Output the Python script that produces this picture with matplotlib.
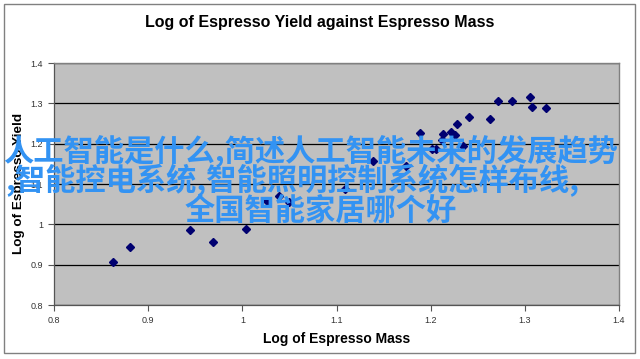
import matplotlib
matplotlib.use("Agg")
import matplotlib.pyplot as plt
from matplotlib.patches import Rectangle

# ======================
# 数据
# ======================
log_mass = [0.863, 0.881, 0.944, 0.969, 1.004, 1.026, 1.039, 1.050, 1.109,
            1.139, 1.174, 1.189, 1.201, 1.206, 1.212, 1.213, 1.222, 1.226,
            1.228, 1.234, 1.241, 1.263, 1.271, 1.286, 1.306, 1.308, 1.322]
log_yield = [0.906, 0.943, 0.986, 0.955, 0.988, 1.059, 1.071, 1.055, 1.087,
             1.158, 1.145, 1.226, 1.186, 1.188, 1.209, 1.224, 1.230, 1.221,
             1.248, 1.194, 1.267, 1.261, 1.307, 1.305, 1.315, 1.290, 1.288]

x_ticks = [0.8, 0.9, 1.0, 1.1, 1.2, 1.3, 1.4]
x_tick_labels = ["0.8", "0.9", "1", "1.1", "1.2", "1.3", "1.4"]
y_ticks = [0.8, 0.9, 1.0, 1.1, 1.2, 1.3, 1.4]
y_tick_labels = ["0.8", "0.9", "1", "1.1", "1.2", "1.3", "1.4"]

title = "Log of Espresso Yield against Espresso Mass"
x_label = "Log of Espresso Mass"
y_label = "Log of Espresso Yield"

watermark = ["人工智能是什么,简述人工智能未来的发展趋势",
             ",智能控电系统,智能照明控制系统怎样布线,",
             "全国智能家居哪个好"]

# ======================
# 画图
# ======================
W, H = 640, 359
fig = plt.figure(figsize=(W / 100, H / 100), dpi=100)
plt.rcParams['font.family'] = ['Liberation Sans', 'DejaVu Sans']

# 外边框
fig.patches.append(Rectangle((4 / W, 1 - 353 / H), 631 / W, 349 / H,
                             transform=fig.transFigure, fill=False,
                             edgecolor='#808080', linewidth=1))

ax = fig.add_axes([54 / W, 1 - 305 / H, (619 - 54) / W, (305 - 63) / H])
ax.set_facecolor('#C0C0C0')
ax.plot(log_mass, log_yield, linestyle='none', marker='D', markersize=3.6,
        color='#000070', zorder=3)

ax.set_xlim(0.8, 1.4)
ax.set_ylim(0.8, 1.4)
ax.set_xticks(x_ticks)
ax.set_xticklabels(x_tick_labels)
ax.set_yticks(y_ticks)
ax.set_yticklabels(y_tick_labels)
ax.tick_params(axis='both', labelsize=6.5, labelcolor='#333333', color='#555555',
               direction='out', length=4, width=0.8, pad=4)
ax.yaxis.grid(True, color='black', linewidth=0.9)
ax.set_axisbelow(True)

for side in ['top', 'right']:
    ax.spines[side].set_color('#808080')
    ax.spines[side].set_linewidth(1)
for side in ['left', 'bottom']:
    ax.spines[side].set_color('#555555')
    ax.spines[side].set_linewidth(0.9)

fig.text(320 / W, 1 - 23 / H, title, ha='center', va='center',
         fontsize=11.5, fontweight='bold')
fig.text(337 / W, 1 - 339 / H, x_label, ha='center', va='center',
         fontsize=10, fontweight='bold')
fig.text(19 / W, 1 - 183 / H, y_label, ha='center', va='center',
         fontsize=9.7, fontweight='bold', rotation=90)

# 水印文字
cjk = ['Noto Sans CJK SC', 'DejaVu Sans']
wm_pos = [(311, 152), (292, 181), (321, 211)]
for line, (px, py) in zip(watermark, wm_pos):
    fig.text(px / W, 1 - py / H, line, ha='center', va='center',
             fontsize=21.8, fontweight='bold', color='#3393F3', family=cjk,
             zorder=10)

fig.savefig("out.png", dpi=100)
